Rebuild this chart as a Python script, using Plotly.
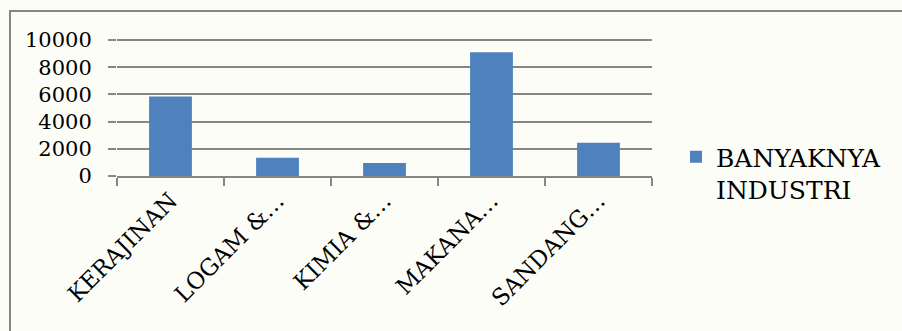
import plotly.graph_objects as go

categories = ["KERAJINAN", "LOGAM &…", "KIMIA &…", "MAKANA…", "SANDANG…"]
values = [5850, 1350, 950, 9100, 2450]
series_name = "BANYAKNYA<br>INDUSTRI"
y_ticks = [0, 2000, 4000, 6000, 8000, 10000]
y_tick_text = ["0", "2000", "4000", "6000", "8000", "10000"]

W, H = 902, 331
L, R, T, B = 117, 250, 36, 155
pw, ph = W - L - R, H - T - B
y_top = 10000 * ph / 136.0

fig = go.Figure()
fig.add_trace(go.Bar(
    x=categories, y=values, name=series_name,
    marker=dict(color="#4f81bd", line=dict(width=0)),
    width=0.4, showlegend=True,
))

FAM = "DejaVu Serif"
yfont = dict(family=FAM, size=21, color="#000000")
xfont = dict(family=FAM, size=23, color="#000000")

fig.update_layout(
    width=W, height=H,
    margin=dict(l=L, r=R, t=T, b=B, autoexpand=False),
    paper_bgcolor="#fdfdf8",
    plot_bgcolor="rgba(0,0,0,0)",
    font=yfont,
    bargap=0.6,
    xaxis=dict(
        type="category", tickangle=-45, tickfont=xfont,
        showgrid=False, showline=True, linecolor="#868686", linewidth=2,
        ticks="outside", ticklen=8, tickcolor="#868686", tickwidth=2,
        tickson="boundaries", zeroline=False,
    ),
    yaxis=dict(
        range=[0, y_top], tickvals=y_ticks, ticktext=y_tick_text, tickfont=yfont,
        showgrid=True, gridcolor="#868686", gridwidth=2,
        ticks="outside", ticklen=8, tickcolor="#868686", tickwidth=2,
        showline=False, zeroline=False, ticklabelstandoff=12,
    ),
    legend=dict(
        x=(676 - L) / pw, y=(H - B - 173) / ph, xanchor="left", yanchor="middle",
        font=dict(family=FAM, size=25, color="#000000"),
        bgcolor="rgba(0,0,0,0)", itemwidth=30, valign="top",
    ),
    shapes=[dict(
        type="rect", xref="paper", yref="paper",
        x0=(10 - L) / pw, x1=2.0, y0=-2.0, y1=(H - B - 11) / ph,
        line=dict(color="#868686", width=2), fillcolor="rgba(0,0,0,0)", layer="below",
    )],
)

fig.write_html("out.html")
